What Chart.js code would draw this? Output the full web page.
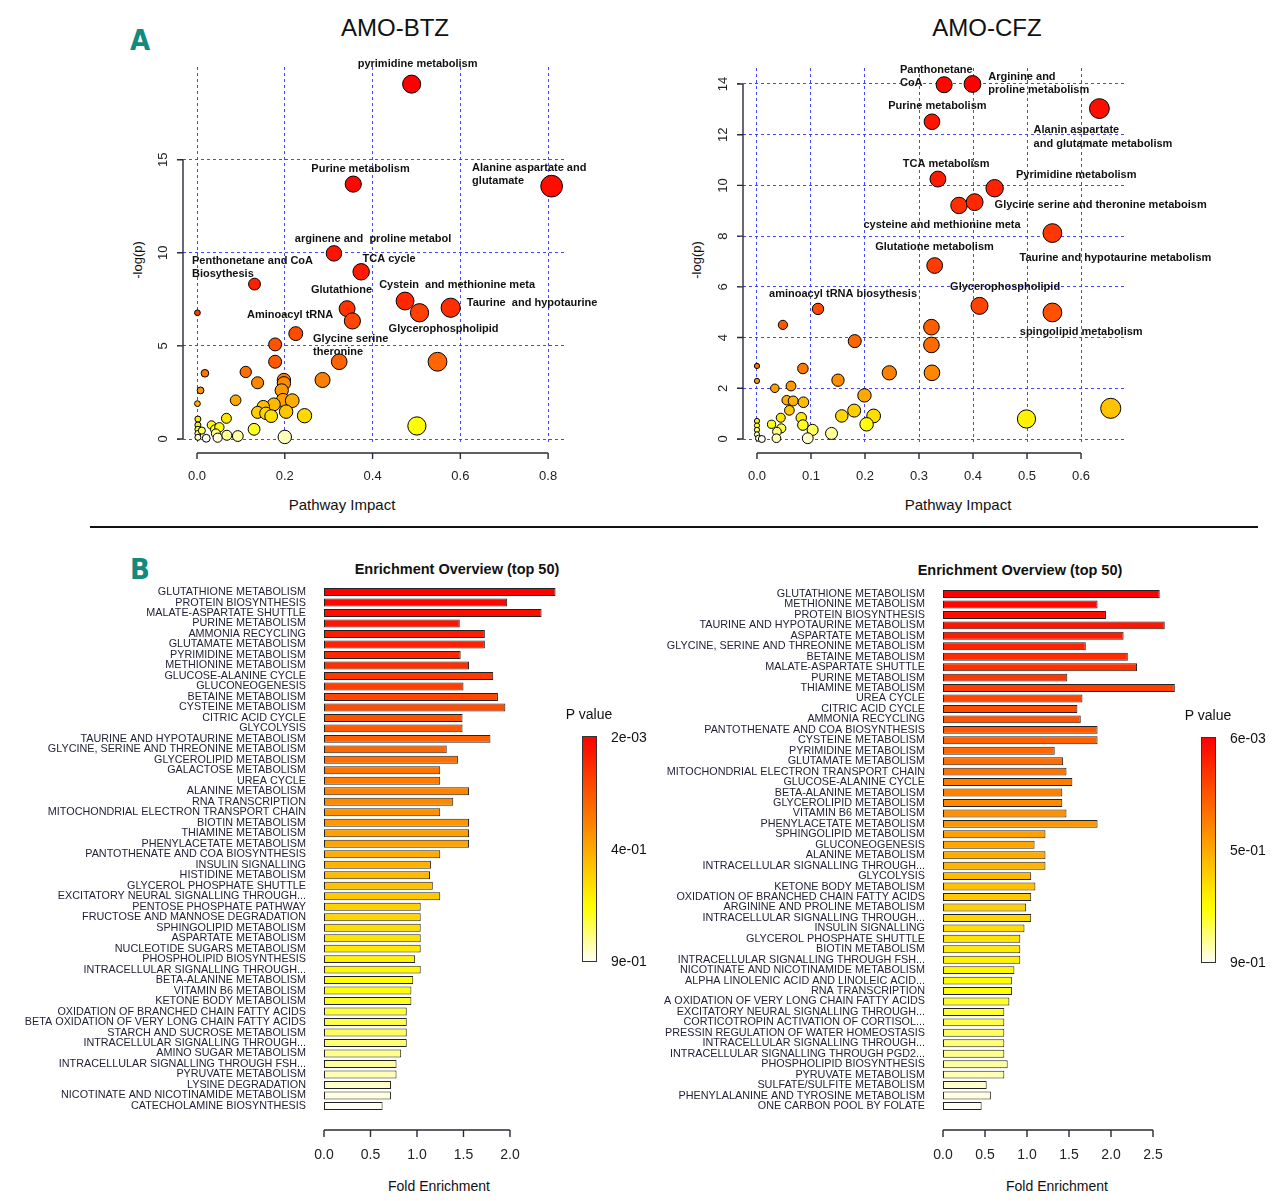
<!DOCTYPE html>
<html>
<head>
<meta charset="utf-8">
<script src="https://cdn.jsdelivr.net/npm/chart.js@4.4.1/dist/chart.umd.min.js"></script>
<style>
  body { margin: 0; background: #fff; width: 1280px; height: 1201px; position: relative; overflow: hidden;
         font-family: "Liberation Sans", Arial, sans-serif; color: #111; }
  .box { position: absolute; }
  .t { position: absolute; white-space: nowrap; transform: translate(-50%, -50%); line-height: 1; }
  .rot { transform: translate(-50%, -50%) rotate(-90deg); }
  .panel { font-family: "Liberation Sans Narrow", "DejaVu Sans Condensed", sans-serif; font-weight: bold;
           font-size: 29px; color: #138a80; }
  .lab { position: absolute; white-space: nowrap; transform: translateY(-50%); font-size: 14px; line-height: 1; }
</style>
</head>
<body>

<div class="t panel" style="left:140px;top:40px">A</div>
<div class="t panel" style="left:140px;top:569px">B</div>
<div class="box" style="left:90px;top:526px;width:1168px;height:2px;background:#111"></div>

<div class="t" style="left:395px;top:28px;font-size:24px">AMO-BTZ</div>
<div class="t" style="left:987px;top:28px;font-size:24px">AMO-CFZ</div>
<div class="t" style="left:342px;top:504px;font-size:15px">Pathway Impact</div>
<div class="t" style="left:958px;top:504px;font-size:15px">Pathway Impact</div>
<div class="t rot" style="left:137px;top:260px;font-size:13px">-log(p)</div>
<div class="t rot" style="left:696px;top:260px;font-size:13px">-log(p)</div>

<div class="t" style="left:457px;top:569px;font-size:14.5px;font-weight:bold">Enrichment Overview (top 50)</div>
<div class="t" style="left:1020px;top:570px;font-size:14.5px;font-weight:bold">Enrichment Overview (top 50)</div>
<div class="t" style="left:439px;top:1186px;font-size:14px">Fold Enrichment</div>
<div class="t" style="left:1057px;top:1186px;font-size:14px">Fold Enrichment</div>

<div class="box" style="left:0;top:0;width:640px;height:525px"><canvas id="btzPath"></canvas></div>
<div class="box" style="left:640px;top:0;width:640px;height:525px"><canvas id="cfzPath"></canvas></div>
<div class="box" style="left:0;top:560px;width:640px;height:641px"><canvas id="btzEnrich"></canvas></div>
<div class="box" style="left:640px;top:560px;width:640px;height:641px"><canvas id="cfzEnrich"></canvas></div>

<script>
// ---- pathway impact (A) ----
var btzImpact = [0.489, 0.356, 0.808, 0.312, 0.374, 0.131, 0.001, 0.342, 0.354, 0.474,
                 0.507, 0.578, 0.225, 0.178, 0.178, 0.324, 0.548, 0.018, 0.111, 0.138,
                 0.198, 0.198, 0.286, 0.008, 0.193, 0.196, 0.217, 0.088, 0.001, 0.175,
                 0.151, 0.138, 0.157, 0.169, 0.203, 0.245, 0.067, 0.501, 0.130, 0.002,
                 0.002, 0.002, 0.002, 0.002, 0.011, 0.033, 0.041, 0.051, 0.043, 0.021,
                 0.047, 0.068, 0.093, 0.200];
var btzLogP = [19.06, 13.69, 13.58, 9.97, 8.98, 8.32, 6.78, 7.00, 6.34, 7.41,
               6.78, 7.05, 5.66, 5.08, 4.15, 4.15, 4.15, 3.53, 3.60, 3.02,
               3.17, 2.99, 3.17, 2.61, 2.61, 2.09, 2.06, 2.08, 1.90, 1.86,
               1.74, 1.43, 1.38, 1.23, 1.47, 1.25, 1.11, 0.70, 0.52, 1.07,
               0.75, 0.52, 0.30, 0.09, 0.45, 0.75, 0.52, 0.63, 0.30, 0.04,
               0.07, 0.20, 0.16, 0.11];

var cfzImpact = [0.3465, 0.399, 0.634, 0.324, 0.335, 0.440, 0.374, 0.403, 0.547, 0.329,
                 0.412, 0.547, 0.113, 0.048, 0.323, 0.323, 0.181, 0.000, 0.085, 0.245,
                 0.324, 0.000, 0.033, 0.063, 0.150, 0.199, 0.055, 0.067, 0.086, 0.060,
                 0.180, 0.157, 0.216, 0.655, 0.499, 0.044, 0.082, 0.027, 0.085, 0.203,
                 0.138, 0.103, 0.045, 0.037, 0.036, 0.094, 0.000, 0.000, 0.000, 0.000,
                 0.003, 0.009];
var cfzLogP = [13.97, 14.00, 13.03, 12.51, 10.25, 9.89, 9.21, 9.34, 8.12, 6.84,
               5.25, 4.99, 5.13, 4.50, 4.41, 3.71, 3.86, 2.88, 2.78, 2.61,
               2.61, 2.29, 2.00, 2.09, 2.32, 1.72, 1.53, 1.50, 1.45, 1.13,
               1.12, 0.91, 0.91, 1.21, 0.79, 0.84, 0.84, 0.58, 0.55, 0.58,
               0.22, 0.36, 0.42, 0.29, 0.03, 0.03, 0.71, 0.53, 0.36, 0.18,
               0.03, 0.00];

// pathway name labels, anchored in data units
var btzNotes = [
    { text: ['pyrimidine metabolism'], at: [0.5026, 20.14] },
    { text: ['Purine metabolism'], at: [0.3726, 14.50] },
    { text: ['Alanine aspartate and', 'glutamate'], at: [0.6268, 14.57], align: 'left' },
    { text: ['arginene and  proline metabol'], at: [0.4011, 10.74] },
    { text: ['Penthonetane and CoA', 'Biosythesis'], at: [-0.0114, 9.576], align: 'left' },
    { text: ['TCA cycle'], at: [0.4376, 9.68] },
    { text: ['Glutathione'], at: [0.3293, 8.00] },
    { text: ['Cystein  and methionine meta'], at: [0.5926, 8.27] },
    { text: ['Taurine  and hypotaurine'], at: [0.7635, 7.30] },
    { text: ['Aminoacyl tRNA'], at: [0.212, 6.66] },
    { text: ['Glycerophospholipid'], at: [0.5618, 5.92] },
    { text: ['Glycine serine', 'theronine'], at: [0.2644, 5.387], align: 'left' }
];
var cfzNotes = [
    { text: ['Panthonetane', 'CoA'], at: [0.2647, 14.57], align: 'left' },
    { text: ['Arginine and', 'proline metabolism'], at: [0.4284, 14.28], align: 'left' },
    { text: ['Purine metabolism'], at: [0.334, 13.12] },
    { text: ['Alanin aspartate', 'and glutamate metabolism'], at: [0.5122, 12.17], align: 'left' },
    { text: ['TCA metabolism'], at: [0.3502, 10.86] },
    { text: ['Pyrimidine metabolism'], at: [0.5911, 10.42] },
    { text: ['Glycine serine and theronine metaboism'], at: [0.6363, 9.22] },
    { text: ['cysteine and methionine meta'], at: [0.3426, 8.43] },
    { text: ['Glutatione metabolism'], at: [0.3287, 7.57] },
    { text: ['Taurine and hypotaurine metabolism'], at: [0.6637, 7.13] },
    { text: ['Glycerophospholipid'], at: [0.4594, 6.01] },
    { text: ['aminoacyl tRNA biosythesis'], at: [0.1594, 5.72] },
    { text: ['spingolipid metabolism'], at: [0.6003, 4.22] }
];

// ---- enrichment overview (B) ----
var btzSets = ['GLUTATHIONE METABOLISM', 'PROTEIN BIOSYNTHESIS', 'MALATE-ASPARTATE SHUTTLE', 'PURINE METABOLISM',
    'AMMONIA RECYCLING', 'GLUTAMATE METABOLISM', 'PYRIMIDINE METABOLISM', 'METHIONINE METABOLISM',
    'GLUCOSE-ALANINE CYCLE', 'GLUCONEOGENESIS', 'BETAINE METABOLISM', 'CYSTEINE METABOLISM',
    'CITRIC ACID CYCLE', 'GLYCOLYSIS', 'TAURINE AND HYPOTAURINE METABOLISM',
    'GLYCINE, SERINE AND THREONINE METABOLISM', 'GLYCEROLIPID METABOLISM', 'GALACTOSE METABOLISM',
    'UREA CYCLE', 'ALANINE METABOLISM', 'RNA TRANSCRIPTION', 'MITOCHONDRIAL ELECTRON TRANSPORT CHAIN',
    'BIOTIN METABOLISM', 'THIAMINE METABOLISM', 'PHENYLACETATE METABOLISM', 'PANTOTHENATE AND COA BIOSYNTHESIS',
    'INSULIN SIGNALLING', 'HISTIDINE METABOLISM', 'GLYCEROL PHOSPHATE SHUTTLE',
    'EXCITATORY NEURAL SIGNALLING THROUGH...', 'PENTOSE PHOSPHATE PATHWAY', 'FRUCTOSE AND MANNOSE DEGRADATION',
    'SPHINGOLIPID METABOLISM', 'ASPARTATE METABOLISM', 'NUCLEOTIDE SUGARS METABOLISM',
    'PHOSPHOLIPID BIOSYNTHESIS', 'INTRACELLULAR SIGNALLING THROUGH...', 'BETA-ALANINE METABOLISM',
    'VITAMIN B6 METABOLISM', 'KETONE BODY METABOLISM', 'OXIDATION OF BRANCHED CHAIN FATTY ACIDS',
    'BETA OXIDATION OF VERY LONG CHAIN FATTY ACIDS', 'STARCH AND SUCROSE METABOLISM',
    'INTRACELLULAR SIGNALLING THROUGH...', 'AMINO SUGAR METABOLISM', 'INTRACELLULAR SIGNALLING THROUGH FSH...',
    'PYRUVATE METABOLISM', 'LYSINE DEGRADATION', 'NICOTINATE AND NICOTINAMIDE METABOLISM',
    'CATECHOLAMINE BIOSYNTHESIS'];
var btzFold = [2.49, 1.97, 2.34, 1.46, 1.73, 1.73, 1.47, 1.56, 1.82, 1.50,
               1.87, 1.95, 1.49, 1.49, 1.79, 1.32, 1.44, 1.25, 1.25, 1.56,
               1.39, 1.25, 1.56, 1.56, 1.56, 1.25, 1.15, 1.14, 1.17, 1.25,
               1.04, 1.04, 1.04, 1.04, 1.04, 0.98, 1.04, 0.96, 0.94, 0.94,
               0.89, 0.89, 0.89, 0.89, 0.83, 0.78, 0.78, 0.72, 0.72, 0.63];

var cfzSets = ['GLUTATHIONE METABOLISM', 'METHIONINE METABOLISM', 'PROTEIN BIOSYNTHESIS',
    'TAURINE AND HYPOTAURINE METABOLISM', 'ASPARTATE METABOLISM', 'GLYCINE, SERINE AND THREONINE METABOLISM',
    'BETAINE METABOLISM', 'MALATE-ASPARTATE SHUTTLE', 'PURINE METABOLISM', 'THIAMINE METABOLISM',
    'UREA CYCLE', 'CITRIC ACID CYCLE', 'AMMONIA RECYCLING', 'PANTOTHENATE AND COA BIOSYNTHESIS',
    'CYSTEINE METABOLISM', 'PYRIMIDINE METABOLISM', 'GLUTAMATE METABOLISM',
    'MITOCHONDRIAL ELECTRON TRANSPORT CHAIN', 'GLUCOSE-ALANINE CYCLE', 'BETA-ALANINE METABOLISM',
    'GLYCEROLIPID METABOLISM', 'VITAMIN B6 METABOLISM', 'PHENYLACETATE METABOLISM', 'SPHINGOLIPID METABOLISM',
    'GLUCONEOGENESIS', 'ALANINE METABOLISM', 'INTRACELLULAR SIGNALLING THROUGH...', 'GLYCOLYSIS',
    'KETONE BODY METABOLISM', 'OXIDATION OF BRANCHED CHAIN FATTY ACIDS', 'ARGININE AND PROLINE METABOLISM',
    'INTRACELLULAR SIGNALLING THROUGH...', 'INSULIN SIGNALLING', 'GLYCEROL PHOSPHATE SHUTTLE',
    'BIOTIN METABOLISM', 'INTRACELLULAR SIGNALLING THROUGH FSH...', 'NICOTINATE AND NICOTINAMIDE METABOLISM',
    'ALPHA LINOLENIC ACID AND LINOLEIC ACID...', 'RNA TRANSCRIPTION',
    'A OXIDATION OF VERY LONG CHAIN FATTY ACIDS', 'EXCITATORY NEURAL SIGNALLING THROUGH...',
    'CORTICOTROPIN ACTIVATION OF CORTISOL...', 'PRESSIN REGULATION OF WATER HOMEOSTASIS',
    'INTRACELLULAR SIGNALLING THROUGH...', 'INTRACELLULAR SIGNALLING THROUGH PGD2...',
    'PHOSPHOLIPID BIOSYNTHESIS', 'PYRUVATE METABOLISM', 'SULFATE/SULFITE METABOLISM',
    'PHENYLALANINE AND TYROSINE METABOLISM', 'ONE CARBON POOL BY FOLATE'];
var cfzFold = [2.58, 1.84, 1.94, 2.64, 2.15, 1.70, 2.20, 2.31, 1.48, 2.76,
               1.66, 1.60, 1.64, 1.84, 1.84, 1.33, 1.43, 1.47, 1.54, 1.42,
               1.42, 1.47, 1.84, 1.22, 1.09, 1.22, 1.22, 1.05, 1.10, 1.05,
               0.99, 1.05, 0.97, 0.92, 0.92, 0.92, 0.85, 0.82, 0.82, 0.79,
               0.73, 0.73, 0.73, 0.73, 0.73, 0.77, 0.73, 0.52, 0.57, 0.46];

var btzScaleTicks = ['2e-03', '4e-01', '9e-01'];
var cfzScaleTicks = ['6e-03', '5e-01', '9e-01'];

// R's heat.colors(n)
function hsv(h, s, v) {
    var i = Math.floor(h * 6), f = h * 6 - i;
    var p = v * (1 - s), q = v * (1 - f * s), t = v * (1 - (1 - f) * s);
    var c = [[v, t, p], [q, v, p], [p, v, t], [p, q, v], [t, p, v], [v, p, q]][i % 6];
    return 'rgb(' + c.map(function (d) { return Math.round(d * 255); }).join(',') + ')';
}
function heatColors(n) {
    var j = Math.floor(n / 4), i = n - j, cols = [];
    for (var k = 0; k < i; k++) cols.push(hsv(i > 1 ? k / (i - 1) / 6 : 0, 1, 1));
    var s0 = 1 - 1 / (2 * j), s1 = 1 / (2 * j);
    for (k = 0; k < j; k++) cols.push(hsv(1 / 6, j > 1 ? s0 + (s1 - s0) * k / (j - 1) : s0, 1));
    return cols;
}

var FONT = '"Liberation Sans", Arial, sans-serif';

// R style detached axis lines with outward ticks
var rAxis = {
    id: 'rAxis',
    afterDraw: function (chart, args, o) {
        var ctx = chart.ctx, area = chart.chartArea;
        ctx.save();
        ctx.strokeStyle = '#2a2a38';
        ctx.lineWidth = 1.4;
        ctx.beginPath();
        if (o.xGap !== undefined) {
            var sx = chart.scales.x;
            var px = sx.ticks.map(function (t) { return sx.getPixelForValue(t.value); });
            var y0 = area.bottom + o.xGap;
            ctx.moveTo(px[0], y0); ctx.lineTo(px[px.length - 1], y0);
            px.forEach(function (p) { ctx.moveTo(p, y0); ctx.lineTo(p, y0 + o.tick); });
        }
        if (o.yGap !== undefined) {
            var sy = chart.scales.y;
            var py = sy.ticks.map(function (t) { return sy.getPixelForValue(t.value); });
            var x0 = area.left + o.yGap;
            ctx.moveTo(x0, py[0]); ctx.lineTo(x0, py[py.length - 1]);
            py.forEach(function (p) { ctx.moveTo(x0, p); ctx.lineTo(x0 - o.tick, p); });
        }
        ctx.stroke();
        ctx.restore();
    }
};

var pathNotes = {
    id: 'pathNotes',
    afterDatasetsDraw: function (chart, args, o) {
        if (!o.items) return;
        var ctx = chart.ctx, sx = chart.scales.x, sy = chart.scales.y;
        ctx.save();
        ctx.font = 'bold 11px ' + FONT;
        ctx.fillStyle = '#111';
        ctx.textBaseline = 'middle';
        o.items.forEach(function (n) {
            ctx.textAlign = n.align || 'center';
            var x = sx.getPixelForValue(n.at[0]);
            var y = sy.getPixelForValue(n.at[1]);
            n.text.forEach(function (line) { ctx.fillText(line, x, y); y += 13.4; });
        });
        ctx.restore();
    }
};

function pathwayChart(id, impact, logp, notes, c) {
    var cols = heatColors(logp.length);
    var order = logp.map(function (v, i) { return i; }).sort(function (a, b) { return logp[b] - logp[a]; });
    var fill = [];
    order.forEach(function (idx, r) { fill[idx] = cols[r]; });

    new Chart(document.getElementById(id), {
        type: 'scatter',
        data: {
            datasets: [{
                data: impact.map(function (x, i) { return { x: x, y: logp[i] }; }),
                backgroundColor: fill,
                borderColor: '#000',
                borderWidth: 1,
                pointRadius: function (ctx) { return ctx.raw ? 2.6 + 9.2 * Math.sqrt(ctx.raw.x) : 3; },
                clip: false
            }]
        },
        options: {
            responsive: true,
            maintainAspectRatio: false,
            animation: false,
            events: [],
            layout: { padding: { top: c.top, right: c.right, bottom: 0, left: 0 } },
            plugins: {
                legend: { display: false },
                tooltip: { enabled: false },
                rAxis: { xGap: 11, yGap: 6, tick: 6 },
                pathNotes: { items: notes }
            },
            scales: {
                x: {
                    type: 'linear', min: c.xmin, max: c.xmax,
                    afterFit: function (s) { s.height = 83; },
                    grid: { color: 'rgba(50,50,255,0.9)', drawTicks: false },
                    border: { display: false, dash: [3, 3] },
                    ticks: {
                        stepSize: c.xstep, includeBounds: false, padding: 27, color: '#222',
                        font: { family: FONT, size: 13 },
                        callback: function (v) { return v.toFixed(1); }
                    }
                },
                y: {
                    type: 'linear', min: c.ymin, max: c.ymax,
                    afterFit: function (s) { s.width = c.yw; },
                    grid: { color: 'rgba(50,50,255,0.9)', drawTicks: false },
                    border: { display: false, dash: [3, 3] },
                    ticks: {
                        stepSize: c.ystep, includeBounds: false, padding: 6.5, color: '#222',
                        minRotation: 90, maxRotation: 90, crossAlign: 'center',
                        font: { family: FONT, size: 13 }
                    }
                }
            }
        },
        plugins: [rAxis, pathNotes]
    });
}

function enrichChart(id, sets, fold, c) {
    new Chart(document.getElementById(id), {
        type: 'bar',
        data: {
            labels: sets,
            datasets: [{
                data: fold,
                backgroundColor: heatColors(fold.length),
                borderColor: '#222',
                borderWidth: 1,
                borderSkipped: false,
                barPercentage: 0.76,
                categoryPercentage: 1,
                clip: false
            }]
        },
        options: {
            indexAxis: 'y',
            responsive: true,
            maintainAspectRatio: false,
            animation: false,
            events: [],
            layout: { padding: { top: c.top, right: c.right, bottom: 0, left: 0 } },
            plugins: {
                legend: { display: false },
                tooltip: { enabled: false },
                rAxis: { xGap: 18.8, tick: 7 }
            },
            scales: {
                x: {
                    type: 'linear', min: 0, max: c.xmax,
                    afterFit: function (s) { s.height = 89.8; },
                    grid: { display: false, drawTicks: false },
                    border: { display: false },
                    ticks: {
                        stepSize: 0.5, includeBounds: false, padding: 36, color: '#222',
                        font: { family: FONT, size: 14 },
                        callback: function (v) { return v.toFixed(1); }
                    }
                },
                y: {
                    afterFit: function (s) { s.width = c.yw; },
                    grid: { display: false, drawTicks: false },
                    border: { display: false },
                    ticks: {
                        autoSkip: false, padding: 18, color: '#1e1e34',
                        font: { family: FONT, size: 10.8, lineHeight: 1 }
                    }
                }
            }
        },
        plugins: [rAxis]
    });
}

function pScale(left, top, ticks) {
    var cols = heatColors(50);
    var bar = document.createElement('div');
    bar.className = 'box';
    bar.style.cssText = 'left:' + left + 'px;top:' + top + 'px;width:13px;height:224px;border:1px solid #333;' +
        'background:linear-gradient(to bottom,' + cols.join(',') + ')';
    document.body.appendChild(bar);
    var head = document.createElement('div');
    head.className = 't';
    head.style.cssText = 'left:' + (left + 7) + 'px;top:' + (top - 22) + 'px;font-size:14px';
    head.textContent = 'P value';
    document.body.appendChild(head);
    ticks.forEach(function (txt, k) {
        var d = document.createElement('div');
        d.className = 'lab';
        d.style.left = (left + 29) + 'px';
        d.style.top = (top + 1 + k * 112) + 'px';
        d.textContent = txt;
        document.body.appendChild(d);
    });
}

pathwayChart('btzPath', btzImpact, btzLogP, btzNotes,
    { top: 67, right: 73, yw: 177, xmin: -0.0456, xmax: 0.843, xstep: 0.2, ymin: -0.161, ymax: 19.98, ystep: 5 });
pathwayChart('cfzPath', cfzImpact, cfzLogP, cfzNotes,
    { top: 68, right: 153.6, yw: 97, xmin: -0.037, xmax: 0.684, xstep: 0.1, ymin: -0.118, ymax: 14.63, ystep: 2 });
enrichChart('btzEnrich', btzSets, btzFold, { top: 26.8, right: 84, yw: 324, xmax: 2.495 });
enrichChart('cfzEnrich', cfzSets, cfzFold, { top: 28.8, right: 101.8, yw: 303, xmax: 2.8 });
pScale(582, 736, btzScaleTicks);
pScale(1201, 737, cfzScaleTicks);
</script>
</body>
</html>
